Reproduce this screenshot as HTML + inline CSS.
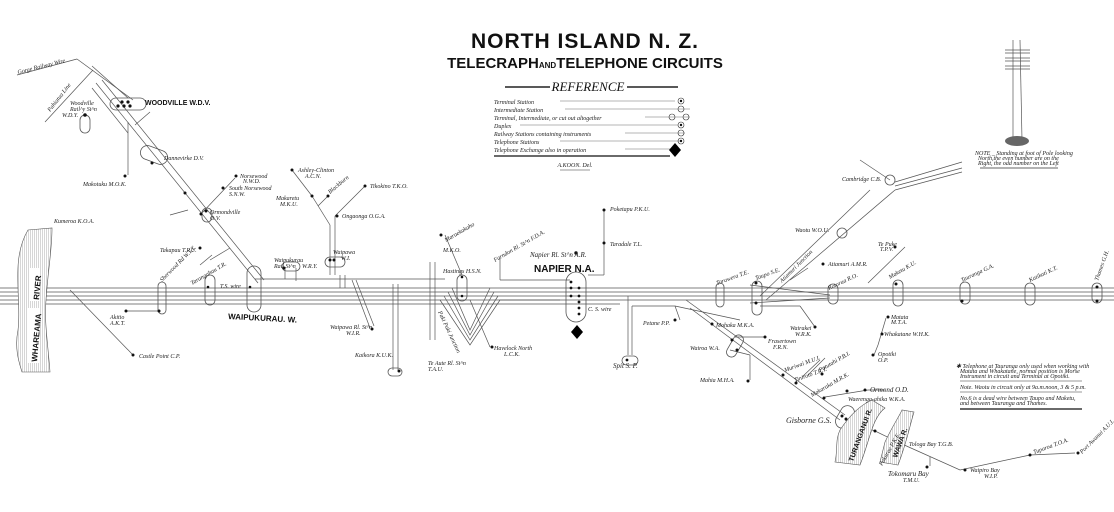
<!DOCTYPE html>
<html><head><meta charset="utf-8"><style>
html,body{margin:0;padding:0;background:#fff;}
svg{display:block;}
.l{font-family:"Liberation Serif",serif;font-style:italic;font-size:6px;fill:#222;}
.b{font-family:"Liberation Sans",sans-serif;font-weight:bold;fill:#111;}
</style></head><body>
<svg width="1114" height="512" viewBox="0 0 1114 512" xmlns="http://www.w3.org/2000/svg">
<defs>
<pattern id="h" width="2" height="2" patternUnits="userSpaceOnUse">
<rect width="2" height="2" fill="#fff"/><line x1="0" y1="0" x2="0" y2="2" stroke="#888" stroke-width="0.7"/>
</pattern>
</defs>
<rect width="1114" height="512" fill="#fff"/>
<g stroke="#555" stroke-width="0.7" fill="none">
<line x1="0" y1="288" x2="1114" y2="288"/>
<line x1="0" y1="292" x2="1114" y2="292"/>
<line x1="0" y1="296" x2="1114" y2="296"/>
<line x1="0" y1="300" x2="1114" y2="300"/>
<line x1="0" y1="304" x2="620" y2="304"/>
<line x1="255" y1="279" x2="445" y2="279"/>
<!-- Woodville branch -->
<line x1="77" y1="59" x2="133" y2="100"/><line x1="92" y1="66" x2="128" y2="98"/>
<line x1="96" y1="83" x2="258" y2="283"/><line x1="102" y1="80" x2="264" y2="280"/>
<line x1="92" y1="88" x2="128" y2="133"/><line x1="128" y1="122" x2="128" y2="175"/>
<line x1="17" y1="75" x2="77" y2="59"/>
<line x1="45" y1="122" x2="93" y2="70"/>
<line x1="135" y1="125" x2="150" y2="112"/>
<line x1="170" y1="215" x2="188" y2="210"/>
<line x1="200" y1="215" x2="235" y2="178"/>
<line x1="210" y1="260" x2="230" y2="248"/>
<line x1="292" y1="170" x2="312" y2="196"/><line x1="312" y1="196" x2="330" y2="225"/>
<line x1="330" y1="225" x2="330" y2="275"/><line x1="335" y1="216" x2="335" y2="275"/>
<line x1="318" y1="206" x2="328" y2="196"/><line x1="335" y1="216" x2="365" y2="186"/>
<line x1="340" y1="275" x2="340" y2="288"/><line x1="345" y1="275" x2="345" y2="288"/>
<line x1="285" y1="268" x2="285" y2="279"/><line x1="296" y1="268" x2="296" y2="281"/>
<line x1="352" y1="280" x2="370" y2="328"/><line x1="356" y1="280" x2="374" y2="326"/>
<line x1="393" y1="284" x2="393" y2="370"/><line x1="398" y1="284" x2="398" y2="370"/>
<line x1="430" y1="262" x2="430" y2="340"/><line x1="435" y1="262" x2="435" y2="340"/>
<line x1="70" y1="290" x2="133" y2="355"/>
<line x1="126" y1="311" x2="160" y2="311"/>
<line x1="200" y1="265" x2="212" y2="255"/>
<polyline points="440,300 470,345 500,300 560,300"/>
<polyline points="444,296 470,340 498,296"/>
<polyline points="448,292 470,335 494,292"/>
<polyline points="452,288 470,330 490,288"/>
<line x1="445" y1="235" x2="462" y2="275"/>
<line x1="470" y1="300" x2="490" y2="347"/>
<line x1="500" y1="258" x2="500" y2="280"/><line x1="500" y1="280" x2="570" y2="280"/>
<line x1="604" y1="210" x2="604" y2="275"/><line x1="588" y1="275" x2="604" y2="275"/>
<line x1="628" y1="296" x2="628" y2="355"/><line x1="632" y1="306" x2="632" y2="355"/>
<line x1="632" y1="306" x2="675" y2="306"/><line x1="675" y1="306" x2="680" y2="320"/>
<line x1="675" y1="306" x2="740" y2="320"/>
<line x1="686" y1="300" x2="845" y2="415"/><line x1="690" y1="308" x2="840" y2="420"/>
<line x1="735" y1="337" x2="765" y2="337"/>
<line x1="730" y1="350" x2="750" y2="355"/><line x1="750" y1="355" x2="750" y2="380"/>
<line x1="802" y1="377" x2="820" y2="360"/><line x1="808" y1="375" x2="825" y2="358"/>
<line x1="825" y1="397" x2="868" y2="390"/><line x1="868" y1="390" x2="885" y2="390"/>
<polyline points="845,420 875,431 902,444 960,470 1030,455 1075,453"/>
<line x1="930" y1="457" x2="930" y2="466"/>
<line x1="760" y1="296" x2="870" y2="190"/><line x1="766" y1="300" x2="895" y2="190"/>
<line x1="895" y1="182" x2="962" y2="162"/><line x1="895" y1="186" x2="962" y2="168"/><line x1="895" y1="190" x2="962" y2="172"/>
<line x1="860" y1="160" x2="890" y2="180"/>
<line x1="750" y1="285" x2="830" y2="295"/><line x1="750" y1="303" x2="830" y2="298"/>
<line x1="760" y1="306" x2="800" y2="306"/><line x1="800" y1="306" x2="815" y2="327"/>
<line x1="790" y1="280" x2="808" y2="268"/>
<line x1="868" y1="283" x2="905" y2="247"/>
<line x1="886" y1="318" x2="878" y2="345"/><line x1="878" y1="345" x2="874" y2="355"/>
<line x1="1013" y1="40" x2="1013" y2="140"/><line x1="1020" y1="40" x2="1022" y2="140"/>
<line x1="1005" y1="50" x2="1030" y2="50"/><line x1="1005" y1="53" x2="1030" y2="53"/>
<line x1="1005" y1="58" x2="1030" y2="58"/><line x1="1005" y1="61" x2="1030" y2="61"/>
<line x1="1005" y1="66" x2="1030" y2="66"/><line x1="1005" y1="69" x2="1030" y2="69"/>
</g>
<ellipse cx="1017" cy="141" rx="12" ry="5" fill="#666"/>
<g stroke="#555" stroke-width="0.8" fill="none">
<rect x="110" y="98" width="36" height="12" rx="6"/>
<rect x="80" y="115" width="10" height="18" rx="5"/>
<rect x="140" y="148" width="28" height="14" rx="7" transform="rotate(20 154 155)"/>
<rect x="202" y="208" width="10" height="14" rx="5"/>
<rect x="158" y="282" width="8" height="32" rx="4"/>
<rect x="205" y="275" width="10" height="30" rx="5"/>
<rect x="247" y="266" width="14" height="46" rx="7"/>
<rect x="282" y="262" width="18" height="9" rx="4.5"/>
<rect x="325" y="257" width="20" height="10" rx="5"/>
<rect x="388" y="368" width="14" height="8" rx="4"/>
<rect x="457" y="275" width="10" height="26" rx="5"/>
<rect x="566" y="272" width="20" height="50" rx="10"/>
<rect x="622" y="356" width="16" height="9" rx="4.5"/>
<rect x="716" y="283" width="8" height="24" rx="4"/>
<rect x="752" y="281" width="10" height="34" rx="5"/>
<rect x="828" y="284" width="10" height="20" rx="5"/>
<rect x="893" y="280" width="10" height="26" rx="5"/>
<rect x="960" y="282" width="10" height="22" rx="5"/>
<rect x="1025" y="283" width="10" height="22" rx="5"/>
<rect x="1092" y="283" width="10" height="20" rx="5"/>
<rect x="730" y="334" width="10" height="24" rx="5" transform="rotate(30 735 346)"/>
<rect x="838" y="405" width="14" height="24" rx="7" transform="rotate(30 845 417)"/>
<circle cx="890" cy="180" r="5"/>
<circle cx="842" cy="233" r="5"/>
</g>
<g fill="#111">
<circle cx="118" cy="106" r="1.6"/><circle cx="124" cy="106" r="1.6"/><circle cx="130" cy="106" r="1.6"/><circle cx="122" cy="102" r="1.6"/><circle cx="128" cy="102" r="1.6"/>
<circle cx="85" cy="115" r="1.8"/>
<circle cx="152" cy="163" r="1.5"/>
<circle cx="125" cy="176" r="1.5"/><circle cx="185" cy="193" r="1.5"/><circle cx="206" cy="211" r="1.5"/><circle cx="201" cy="214" r="1.5"/><circle cx="223" cy="188" r="1.5"/><circle cx="236" cy="176" r="1.5"/>
<circle cx="200" cy="248" r="1.5"/><circle cx="133" cy="355" r="1.5"/><circle cx="126" cy="311" r="1.5"/><circle cx="159" cy="311" r="1.5"/>
<circle cx="208" cy="287" r="1.3"/><circle cx="250" cy="287" r="1.3"/>
<circle cx="292" cy="170" r="1.5"/><circle cx="312" cy="196" r="1.5"/><circle cx="328" cy="196" r="1.5"/><circle cx="365" cy="186" r="1.5"/><circle cx="337" cy="216" r="1.5"/>
<circle cx="284" cy="268" r="1.5"/><circle cx="330" cy="260" r="1.5"/><circle cx="334" cy="260" r="1.5"/><circle cx="372" cy="329" r="1.5"/>
<circle cx="399" cy="371" r="1.5"/><circle cx="441" cy="235" r="1.5"/><circle cx="462" cy="277" r="1.3"/><circle cx="462" cy="296" r="1.3"/><circle cx="492" cy="347" r="1.5"/>
<circle cx="604" cy="210" r="1.5"/><circle cx="604" cy="243" r="1.5"/><circle cx="576" cy="253" r="1.7"/>
<circle cx="571" cy="282" r="1.4"/><circle cx="571" cy="288" r="1.4"/><circle cx="579" cy="288" r="1.4"/><circle cx="571" cy="296" r="1.4"/><circle cx="579" cy="296" r="1.4"/><circle cx="579" cy="302" r="1.4"/><circle cx="579" cy="308" r="1.4"/><circle cx="579" cy="314" r="1.4"/>
<circle cx="675" cy="320" r="1.5"/><circle cx="627" cy="360" r="1.4"/>
<circle cx="712" cy="324" r="1.5"/><circle cx="765" cy="337" r="1.5"/><circle cx="732" cy="340" r="1.5"/><circle cx="737" cy="350" r="1.5"/><circle cx="748" cy="381" r="1.5"/>
<circle cx="783" cy="375" r="1.5"/><circle cx="796" cy="383" r="1.5"/><circle cx="822" cy="374" r="1.5"/><circle cx="824" cy="398" r="1.5"/><circle cx="847" cy="391" r="1.5"/><circle cx="865" cy="390" r="1.5"/>
<circle cx="842" cy="416" r="1.5"/><circle cx="846" cy="419" r="1.5"/>
<circle cx="875" cy="431" r="1.5"/><circle cx="903" cy="444" r="1.5"/><circle cx="927" cy="467" r="1.5"/><circle cx="965" cy="470" r="1.5"/><circle cx="1030" cy="455" r="1.5"/><circle cx="1078" cy="453" r="1.5"/>
<circle cx="756" cy="283" r="1.5"/><circle cx="756" cy="303" r="1.5"/><circle cx="815" cy="327" r="1.5"/><circle cx="823" cy="264" r="1.5"/>
<circle cx="895" cy="247" r="1.5"/><circle cx="896" cy="284" r="1.5"/><circle cx="888" cy="317" r="1.5"/><circle cx="882" cy="334" r="1.5"/><circle cx="873" cy="355" r="1.5"/>
<circle cx="962" cy="301" r="1.5"/><circle cx="1097" cy="287" r="1.5"/><circle cx="1097" cy="301" r="1.5"/>
</g>
<polygon points="577,325 583,332 577,339 571,332" fill="#000"/>
<g stroke="#555" stroke-width="0.6" fill="url(#h)">
<path d="M28,230 C10,260 22,300 18,330 C14,350 20,365 22,372 L50,372 C48,345 44,320 46,300 C48,270 52,250 52,228 Z"/>
<path d="M840,430 C850,415 860,405 872,400 L885,408 C872,418 870,440 860,465 L835,462 C838,450 835,440 840,430 Z"/>
<path d="M885,442 C893,425 900,415 902,410 L914,412 C910,425 906,445 898,465 L880,462 Z"/>
</g>
<g fill="#fff"><rect x="27" y="308" width="12" height="55"/><rect x="29" y="268" width="11" height="33"/></g>
<text class="b" font-size="8" transform="translate(37,362) rotate(-85)">WHAREAMA</text>
<text class="b" font-size="8" transform="translate(39,300) rotate(-85)">RIVER</text>
<text class="b" font-size="7" transform="translate(853,462) rotate(-70)">TURANGANUI R.</text>
<text class="b" font-size="7" transform="translate(897,458) rotate(-70)">WAWA R.</text>
<text class="b" x="585" y="48" font-size="21" text-anchor="middle" letter-spacing="1">NORTH ISLAND N. Z.</text>
<text class="b" x="585" y="68" font-size="15" text-anchor="middle">TELECRAPH<tspan font-size="8">AND</tspan>TELEPHONE CIRCUITS</text>
<line x1="505" y1="87" x2="550" y2="87" stroke="#222" stroke-width="1.5"/>
<line x1="627" y1="87" x2="678" y2="87" stroke="#222" stroke-width="1.5"/>
<text x="588" y="91" font-family="Liberation Serif" font-style="italic" font-size="13" text-anchor="middle" fill="#111">REFERENCE</text>
<g class="l" font-size="7">
<text x="494" y="104">Terminal Station</text>
<text x="494" y="112">Intermediate Station</text>
<text x="494" y="120">Terminal, Intermediate, or cut out altogether</text>
<text x="494" y="128">Duplex</text>
<text x="494" y="136">Railway Stations containing instruments</text>
<text x="494" y="144">Telephone Stations</text>
<text x="494" y="152">Telephone Exchange also in operation</text>
</g>
<g stroke="#444" stroke-width="0.4">
<line x1="560" y1="101" x2="675" y2="101"/><line x1="565" y1="109" x2="690" y2="109"/><line x1="645" y1="117" x2="690" y2="117"/><line x1="520" y1="125" x2="678" y2="125"/><line x1="625" y1="133" x2="685" y2="133"/><line x1="560" y1="141" x2="680" y2="141"/><line x1="625" y1="149" x2="670" y2="149"/>
</g>
<line x1="494" y1="156" x2="670" y2="156" stroke="#111" stroke-width="1.2"/>
<g fill="none" stroke="#333" stroke-width="0.6"><circle cx="681" cy="101" r="3"/><circle cx="681" cy="109" r="3"/><circle cx="672" cy="117" r="3"/><circle cx="686" cy="117" r="3"/><circle cx="681" cy="125" r="3"/><circle cx="681" cy="133" r="3"/><circle cx="681" cy="141" r="3"/></g>
<circle cx="681" cy="101" r="1.2" fill="#111"/><circle cx="681" cy="125" r="1.2" fill="#111"/><circle cx="681" cy="141" r="1.2" fill="#111"/>
<polygon points="675,143 681,150 675,157 669,150" fill="#000"/>
<text class="l" x="575" y="167" text-anchor="middle" font-style="normal" font-size="5">A.KOON. Del.</text>
<line x1="560" y1="170" x2="590" y2="170" stroke="#333" stroke-width="0.5"/>
<text class="l" x="975" y="155" font-size="4.5">NOTE _ Standing at foot of Pole looking</text>
<text class="l" x="978" y="160" font-size="4.5">North,the even number are on the</text>
<text class="l" x="978" y="165" font-size="4.5">Right, the odd number on the Left</text>
<line x1="980" y1="168" x2="1058" y2="168" stroke="#333" stroke-width="0.8"/>
<g class="l">
<text x="18" y="74" transform="rotate(-14 18 74)">Gorge Railway Wire</text>
<text x="50" y="112" transform="rotate(-52 50 112)">Pahiatua Line</text>
<text x="70" y="105">Woodville</text><text x="70" y="111">Rail^y St^n</text><text x="62" y="117">W.D.Y.</text>
<text x="145" y="105" class="b" font-size="7" font-style="normal">WOODVILLE W.D.V.</text>
<text x="164" y="160">Dannevirke D.V.</text>
<text x="83" y="186">Makotuku M.O.K.</text>
<text x="54" y="223">Kumeroa K.O.A.</text>
<text x="240" y="178">Norsewood</text><text x="243" y="183">N.W.D.</text>
<text x="229" y="190">South Norsewood</text><text x="229" y="196">S.N.W.</text>
<text x="210" y="214">Ormondville</text><text x="210" y="220">O.V.</text>
<text x="160" y="252">Takapau T.P.U.</text>
<text x="298" y="172">Ashley-Clinton</text><text x="305" y="178">A.C.N.</text>
<text x="276" y="200">Makaretu</text><text x="280" y="206">M.K.U.</text>
<text x="330" y="194" transform="rotate(-40 330 194)">Blackburn</text>
<text x="370" y="188">Tikokino T.K.O.</text>
<text x="342" y="218">Ongaonga O.G.A.</text>
<text x="333" y="254">Waipawa</text><text x="341" y="260">W.I.</text>
<text x="274" y="262">Waipukurau</text><text x="274" y="268">Rail St^n</text><text x="302" y="268">W.R.Y.</text>
<text x="162" y="282" transform="rotate(-45 162 282)">Sherwood Rd W.Y.T.</text>
<text x="192" y="285" transform="rotate(-30 192 285)">Tarangahau T.R.</text>
<text x="220" y="288">T.S. wire</text>
<text x="110" y="319">Akitio</text><text x="110" y="325">A.K.T.</text>
<text x="139" y="358">Castle Point C.P.</text>
<text x="330" y="329">Waipawa Rl. St^n</text><text x="346" y="335">W.I.R.</text>
<text x="355" y="357">Kaikora K.U.K.</text>
<text x="446" y="242" transform="rotate(-30 446 242)">Maraekakaho</text>
<text x="443" y="252">M.K.O.</text>
<text x="443" y="273">Hastings H.S.N.</text>
<text x="495" y="262" transform="rotate(-30 495 262)">Farndon Rl. St^n F.D.A.</text>
<text x="494" y="350">Havelock North</text><text x="504" y="356">L.C.K.</text>
<text x="428" y="365">Te Aute Rl. St^n</text><text x="428" y="371">T.A.U.</text>
<text x="438" y="312" transform="rotate(65 438 312)">Paki Paki Junction</text>
<text x="610" y="211">Poketapu P.K.U.</text>
<text x="610" y="246">Taradale T.L.</text>
<text x="530" y="257" font-size="7">Napier Rl. St^n A.R.</text>
<text x="534" y="272" class="b" font-size="10" font-style="normal">NAPIER N.A.</text>
<text x="588" y="311">C. S. wire</text>
<text x="613" y="368" font-size="7">Spit  S. P.</text>
<text x="643" y="325">Petane P.P.</text>
<text x="716" y="327">Mohaka M.K.A.</text>
<text x="690" y="350">Wairoa W.A.</text>
<text x="768" y="343">Frasertown</text><text x="773" y="349">F.R.N.</text>
<text x="700" y="382">Mahia M.H.A.</text>
<text x="785" y="372" transform="rotate(-20 785 372)">Muriwai M.U.I.</text>
<text x="795" y="382" transform="rotate(-20 795 382)">Tiniroto T.R.T.</text>
<text x="820" y="372" transform="rotate(-30 820 372)">Patutahi P.B.I.</text>
<text x="812" y="397" transform="rotate(-30 812 397)">Makaraka M.R.K.</text>
<text x="870" y="392" font-size="7">Ormond O.D.</text>
<text x="848" y="401">Waerenga-ahika W.K.A.</text>
<text x="786" y="423" font-size="8">Gisborne G.S.</text>
<text x="882" y="466" transform="rotate(-60 882 466)">Pakarae P.K.E.</text>
<text x="909" y="446">Tologa Bay T.G.B.</text>
<text x="888" y="476" font-size="7">Tokomaru  Bay</text><text x="903" y="482">T.M.U.</text>
<text x="970" y="472">Waipiro Bay</text><text x="984" y="478">W.I.P.</text>
<text x="1034" y="454" transform="rotate(-20 1034 454)">Tuparoa T.O.A.</text>
<text x="1082" y="454" transform="rotate(-45 1082 454)">Port Awanui A.U.I.</text>
<text x="717" y="285" transform="rotate(-20 717 285)">Tarawera T.E.</text>
<text x="756" y="280" transform="rotate(-20 756 280)">Taupo S.E.</text>
<text x="782" y="283" transform="rotate(-45 782 283)">Atiamuri Junction</text>
<text x="828" y="266">Atiamuri A.M.R.</text>
<text x="829" y="290" transform="rotate(-25 829 290)">Rotorua R.O.</text>
<text x="890" y="279" transform="rotate(-30 890 279)">Maketu K.U.</text>
<text x="878" y="246">Te Puke</text><text x="880" y="251">T.P.V.</text>
<text x="795" y="232">Waotu W.O.U.</text>
<text x="842" y="181">Cambridge C.B.</text>
<text x="790" y="330">Wairakei</text><text x="795" y="336">W.R.K.</text>
<text x="891" y="319">Matata</text><text x="891" y="324">M.T.A.</text>
<text x="884" y="336">Whakatane W.H.K.</text>
<text x="878" y="356">Opotiki</text><text x="878" y="362">O.P.</text>
<text x="962" y="282" transform="rotate(-25 962 282)">Tauranga G.A.</text>
<text x="1030" y="282" transform="rotate(-25 1030 282)">Katikati K.T.</text>
<text x="1098" y="281" transform="rotate(-70 1098 281)">Thames G.H.</text>
</g>
<g class="l" font-size="4.6">
<text x="956" y="368">✱ Telephone at Tauranga only used when working with</text>
<text x="960" y="373">Matata and Whakatane, normal position is Morse</text>
<text x="960" y="378">Instrument in circuit and Terminal at Opotiki.</text>
<text x="960" y="389">Note. Waotu in circuit only at 9a.m.noon, 3 &amp; 5 p.m.</text>
<text x="960" y="400">No.6 is a dead wire between Taupo and Maketu,</text>
<text x="960" y="405">and between Tauranga and Thames.</text>
</g>
<g stroke="#333" stroke-width="0.5"><line x1="960" y1="381" x2="1082" y2="381"/><line x1="960" y1="392" x2="1082" y2="392"/></g>
<line x1="960" y1="409" x2="1082" y2="409" stroke="#111" stroke-width="1.2"/>
<text class="b" x="228" y="319" font-size="8" transform="rotate(3 228 319)">WAIPUKURAU. W.</text>
</svg>
</body></html>
